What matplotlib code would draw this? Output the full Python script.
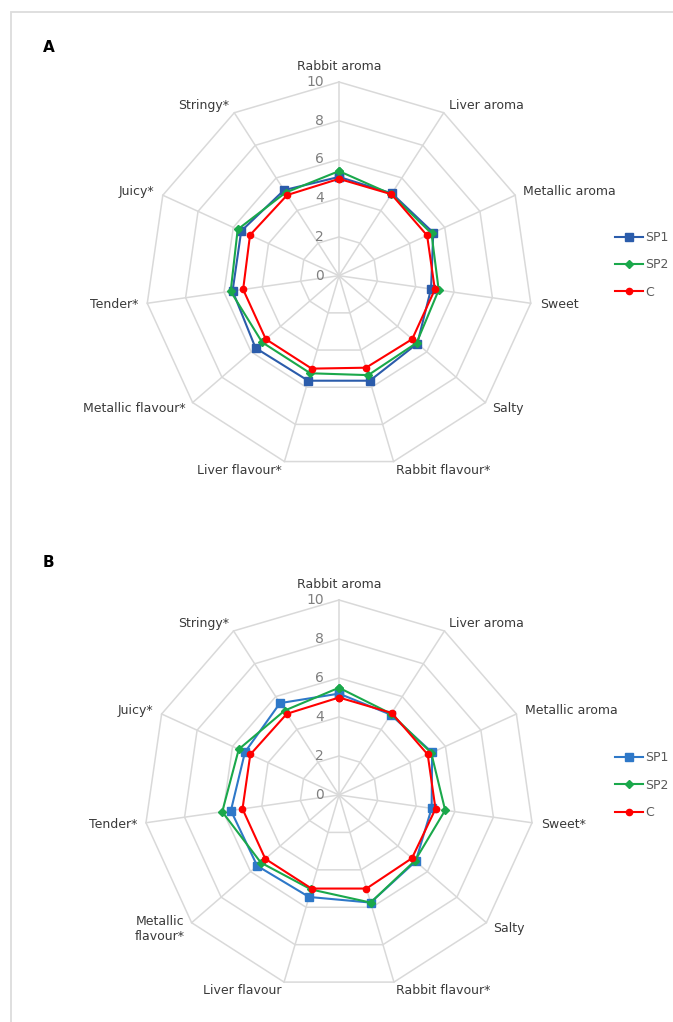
import numpy as np
import matplotlib
matplotlib.use('Agg')
import matplotlib.pyplot as plt
from matplotlib.patches import Rectangle

plt.rcParams['font.family'] = ['Liberation Sans Narrow', 'DejaVu Sans']

# sensory attributes (clockwise from top)
attrs_a = ['Rabbit aroma', 'Liver aroma', 'Metallic aroma', 'Sweet', 'Salty',
           'Rabbit flavour*', 'Liver flavour*', 'Metallic flavour*', 'Tender*',
           'Juicy*', 'Stringy*']
attrs_b = ['Rabbit aroma', 'Liver aroma', 'Metallic aroma', 'Sweet*', 'Salty',
           'Rabbit flavour*', 'Liver flavour', 'Metallic\nflavour*', 'Tender*',
           'Juicy*', 'Stringy*']

# panel A scores
sp1_a = [5.1, 5.05, 5.35, 4.8, 5.35, 5.65, 5.65, 5.7, 5.55, 5.55, 5.25]
sp2_a = [5.4, 5.0, 5.25, 5.2, 5.3, 5.35, 5.25, 5.25, 5.65, 5.75, 5.1]
c_a = [5.0, 5.0, 5.0, 5.0, 5.0, 4.95, 5.0, 5.0, 5.0, 5.05, 4.95]

# panel B scores
sp1_b = [5.2, 4.9, 5.25, 4.8, 5.2, 5.75, 5.45, 5.55, 5.6, 5.3, 5.6]
sp2_b = [5.5, 4.95, 5.2, 5.5, 5.15, 5.75, 5.05, 5.3, 6.05, 5.65, 5.15]
c_b = [5.0, 5.0, 5.0, 5.0, 4.95, 5.0, 5.0, 5.0, 5.0, 5.0, 4.95]

series_names = ['SP1', 'SP2', 'C']
ticks = [0, 2, 4, 6, 8, 10]

W, H = 673, 1022
grid_col = '#d9d9d9'
txt_col = '#3a3a3a'


def rect(cx, cy, r):
    return [(cx - r) / W, 1 - (cy + r) / H, 2 * r / W, 2 * r / H]


def radar(ax, labels, values, blue, leg_y):
    n = len(labels)
    ang = np.arange(n) * 2 * np.pi / n
    ang_c = np.append(ang, ang[0])
    ax.set_theta_zero_location('N')
    ax.set_theta_direction(-1)
    ax.set_ylim(0, 10)
    ax.grid(False)
    ax.set_xticks([])
    ax.set_yticks([])
    ax.spines['polar'].set_visible(False)
    ax.patch.set_alpha(0)

    for r in ticks[1:]:
        ax.plot(ang_c, [r] * (n + 1), color=grid_col, lw=1.1, zorder=1, clip_on=False)
    for a in ang:
        ax.plot([a, a], [0, 10], color=grid_col, lw=1.1, zorder=1, clip_on=False)

    for t in ticks:
        ax.annotate(str(t), xy=(0, t), xytext=(-15, 0), textcoords='offset pixels',
                    ha='right', va='center', fontsize=10, color='#7f7f7f',
                    annotation_clip=False)

    for k, lab in enumerate(labels):
        a = ang[k]
        dx, dy = np.sin(a), np.cos(a)
        ha = 'left' if dx > 0.1 else ('right' if dx < -0.1 else 'center')
        va = 'bottom' if k == 0 else 'center'
        off = (0, 9) if k == 0 else (9 * dx, 9 * dy)
        ax.annotate(lab, xy=(a, 10), xytext=off, textcoords='offset pixels',
                    ha=ha, va=va, fontsize=9, color=txt_col, multialignment='right',
                    annotation_clip=False)

    styles = [(blue, 's', 5.5), ('#1aa84b', 'D', 3.8), ('#ff0000', 'o', 4.5)]
    for vals, name, (col, mk, ms) in zip(values, series_names, styles):
        v = np.append(vals, vals[0])
        ax.plot(ang_c, v, color=col, marker=mk, ms=ms, lw=1.5, label=name,
                zorder=3, clip_on=False)

    ax.legend(loc='center left', bbox_to_anchor=(615 / W, 1 - leg_y / H),
              bbox_transform=fig.transFigure, frameon=False, borderpad=0,
              borderaxespad=0, handlelength=2.2, handletextpad=0.2,
              labelspacing=1.15, fontsize=9, labelcolor='#595959')


fig = plt.figure(figsize=(W / 100, H / 100), dpi=100)

ax_a = fig.add_axes(rect(339, 275.7, 193.7), projection='polar')
radar(ax_a, attrs_a, [sp1_a, sp2_a, c_a], '#2b5cab', 265)

ax_b = fig.add_axes(rect(339, 795, 195), projection='polar')
radar(ax_b, attrs_b, [sp1_b, sp2_b, c_b], '#2e78c8', 785)

fig.text(43 / W, 1 - 47 / H, 'A', fontsize=11, weight='bold', va='center', color='black')
fig.text(43 / W, 1 - 562 / H, 'B', fontsize=11, weight='bold', va='center', color='black')

fig.add_artist(Rectangle((11 / W, -0.05), 1.0, 1 - 12 / H + 0.05, transform=fig.transFigure,
                         fill=False, ec='#dcdcdc', lw=1.3))

fig.savefig('out.png', dpi=100)
